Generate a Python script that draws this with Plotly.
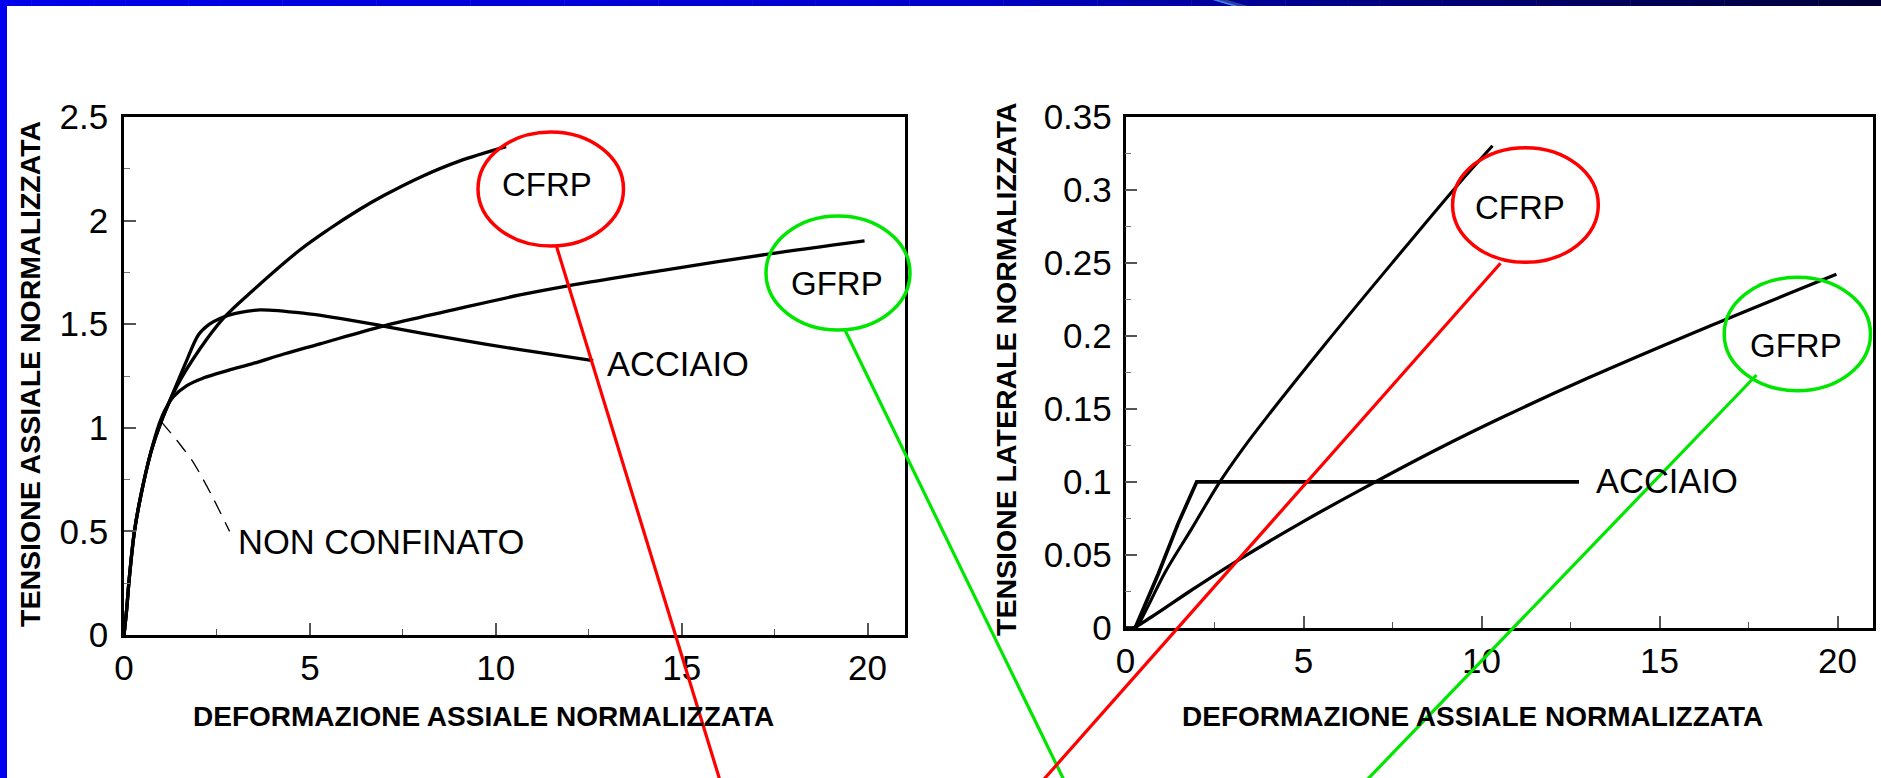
import plotly.graph_objects as go

W, H = 1881, 778

# ---------------- data: left chart (axial stress vs axial strain) ----------------
cfrp_ax_x = [0, 0.07, 0.14, 0.28, 0.45, 0.72, 1.0, 1.42, 2.04, 2.67, 3.48, 4.73, 5.5, 6.3, 7.0, 8.0, 9.0, 10.28]
cfrp_ax_y = [0, 0.12, 0.27, 0.5, 0.67, 0.88, 1.03, 1.2, 1.38, 1.528, 1.665, 1.858, 1.957, 2.05, 2.122, 2.212, 2.286, 2.357]

acc_ax_x = [0, 0.07, 0.14, 0.28, 0.45, 0.72, 1.0, 1.3, 1.65, 2.0, 2.3, 2.58, 3.0, 3.66, 4.82, 6.0, 6.97, 8.85, 10.65, 12.62]
acc_ax_y = [0, 0.12, 0.27, 0.5, 0.67, 0.88, 1.03, 1.16, 1.31, 1.448, 1.5, 1.528, 1.552, 1.569, 1.553, 1.522, 1.491, 1.43, 1.377, 1.324]

gfrp_ax_x = [0, 0.07, 0.14, 0.28, 0.45, 0.72, 0.95, 1.1, 1.33, 1.7, 2.13, 2.8, 3.48, 4.3, 5.27, 6.97, 8.85, 10.65, 11.9, 14.5, 17.28, 19.92]
gfrp_ax_y = [0, 0.12, 0.27, 0.5, 0.67, 0.88, 1.02, 1.085, 1.15, 1.205, 1.24, 1.277, 1.311, 1.356, 1.405, 1.491, 1.569, 1.641, 1.684, 1.76, 1.837, 1.902]

nonconf_x = [1.0, 1.42, 1.82, 2.04, 2.4, 2.84]
nonconf_y = [1.03, 0.94, 0.845, 0.78, 0.66, 0.5]

# ---------------- data: right chart (lateral stress vs axial strain) ----------------
cfrp_lat_x = [0, 0.28, 0.55, 1.11, 1.86, 2.65, 3.3, 4.01, 5.6, 7.48, 9.35, 10.31]
cfrp_lat_y = [0, 0.0, 0.011, 0.038, 0.068, 0.1, 0.1228, 0.1455, 0.194, 0.2495, 0.3037, 0.33]

acc_lat_x = [0, 0.27, 0.92, 1.48, 2.0, 12.74]
acc_lat_y = [0, 0.0, 0.037, 0.0716, 0.1, 0.1]

gfrp_lat_x = [0, 0.2, 0.74, 1.86, 3.17, 5.04, 7.02, 8.8, 10.66, 12.99, 16.5, 19.97]
gfrp_lat_y = [0, 0.0, 0.0077, 0.026, 0.0465, 0.0735, 0.1, 0.1228, 0.145, 0.171, 0.2075, 0.242]

left_xticks = [0, 5, 10, 15, 20]
left_yticks = [0, 0.5, 1, 1.5, 2, 2.5]
right_yticks = [0, 0.05, 0.1, 0.15, 0.2, 0.25, 0.3, 0.35]

FONT = "Liberation Sans, Arial, Helvetica, sans-serif"
RED = "#ff0000"
GREEN = "#00e600"


def px(x):
    return x / W


def py(y):
    return 1 - y / H


fig = go.Figure()

curve = dict(mode="lines", hoverinfo="skip", showlegend=False)
sp = dict(shape="spline", smoothing=1.0)
fig.add_trace(go.Scatter(x=cfrp_ax_x, y=cfrp_ax_y, line=dict(color="black", width=3.3, **sp), xaxis="x", yaxis="y", **curve))
fig.add_trace(go.Scatter(x=acc_ax_x, y=acc_ax_y, line=dict(color="black", width=3.3, shape="spline", smoothing=0.8), xaxis="x", yaxis="y", **curve))
fig.add_trace(go.Scatter(x=gfrp_ax_x, y=gfrp_ax_y, line=dict(color="black", width=3.3, **sp), xaxis="x", yaxis="y", **curve))
fig.add_trace(go.Scatter(x=nonconf_x, y=nonconf_y, line=dict(color="black", width=1.3, dash="15px,9px", shape="spline", smoothing=0.6), xaxis="x", yaxis="y", **curve))

fig.add_trace(go.Scatter(x=cfrp_lat_x, y=cfrp_lat_y, line=dict(color="black", width=3.1, **sp), xaxis="x2", yaxis="y2", **curve))
fig.add_trace(go.Scatter(x=acc_lat_x, y=acc_lat_y, line=dict(color="black", width=3.7), xaxis="x2", yaxis="y2", **curve))
fig.add_trace(go.Scatter(x=gfrp_lat_x, y=gfrp_lat_y, line=dict(color="black", width=3.3, **sp), xaxis="x2", yaxis="y2", **curve))

tickfont = dict(family=FONT, size=35, color="black")
common_axis = dict(showline=True, linecolor="black", linewidth=2.5, mirror=True, showgrid=False, zeroline=False,
                   ticks="inside", tickcolor="#555", tickwidth=1.5, ticklen=12, tickfont=tickfont, fixedrange=True)

fig.update_layout(
    width=W, height=H,
    margin=dict(l=0, r=0, t=0, b=0, autoexpand=False),
    paper_bgcolor="white", plot_bgcolor="white",
    showlegend=False,
    xaxis=dict(domain=[px(124), px(904.7)], range=[0, 21], anchor="y", tickvals=left_xticks,
               minor=dict(ticks="inside", dtick=2.5, tick0=0, ticklen=6, tickcolor="#555", tickwidth=1.2),
               ticklabelstandoff=0, **common_axis),
    yaxis=dict(domain=[py(635), py(117)], range=[0, 2.5], anchor="x", tickvals=left_yticks,
               minor=dict(ticks="inside", dtick=0.25, tick0=0, ticklen=6, tickcolor="#777", tickwidth=1.2),
               ticklabelstandoff=6, **common_axis),
    xaxis2=dict(domain=[px(1125.5), px(1873.1)], range=[0, 21], anchor="y2", tickvals=left_xticks,
                minor=dict(ticks="inside", dtick=2.5, tick0=0, ticklen=6, tickcolor="#555", tickwidth=1.2),
                ticklabelstandoff=0, **common_axis),
    yaxis2=dict(domain=[py(628), py(116.5)], range=[0, 0.35], anchor="x2", tickvals=right_yticks,
                minor=dict(ticks="inside", dtick=0.025, tick0=0, ticklen=6, tickcolor="#777", tickwidth=1.2),
                ticklabelstandoff=4, **common_axis),
)

# ---------------- decorative frame (slide border) ----------------
shapes = []
shapes.append(dict(type="rect", xref="paper", yref="paper", x0=px(0), x1=px(7), y0=py(778), y1=py(0),
                   fillcolor="#0000f0", line=dict(width=0), layer="above"))
stops = [(0, 235), (940, 205), (1400, 125), (1881, 55)]
nseg = 60
for i in range(nseg):
    xa = W * i / nseg
    xb = W * (i + 1) / nseg
    xm = (xa + xb) / 2
    for (s0, c0), (s1, c1) in zip(stops[:-1], stops[1:]):
        if s0 <= xm <= s1:
            c = c0 + (c1 - c0) * (xm - s0) / (s1 - s0)
            break
    shapes.append(dict(type="rect", xref="paper", yref="paper", x0=px(xa), x1=px(xb + 0.5), y0=py(6), y1=py(0),
                       fillcolor=f"rgb(0,0,{int(c)})", line=dict(width=0), layer="above"))
# small swoosh in the top bar
shapes.append(dict(type="path", xref="paper", yref="paper",
                   path=f"M {px(1213)},{py(0)} L {px(1227)},{py(0)} L {px(1248)},{py(6)} L {px(1233)},{py(6)} Z",
                   fillcolor="#2b3f9a", line=dict(width=0), layer="above"))
shapes.append(dict(type="path", xref="paper", yref="paper",
                   path=f"M {px(1213)},{py(0)} L {px(1218)},{py(0)} L {px(1238)},{py(6)} L {px(1233)},{py(6)} Z",
                   fillcolor="#3f86ff", line=dict(width=0), layer="above"))

# ---------------- ellipses and connector lines ----------------
ell = [
    (478, 623.5, 132, 246, RED),
    (766, 910, 216, 330, GREEN),
    (1452.6, 1598.3, 147.7, 262.3, RED),
    (1724.2, 1870.5, 277.3, 390.7, GREEN),
]
for x0, x1, y0, y1, col in ell:
    shapes.append(dict(type="circle", xref="paper", yref="paper", x0=px(x0), x1=px(x1), y0=py(y1), y1=py(y0),
                       line=dict(color=col, width=3.5), layer="above"))

lines = [
    (556.4, 246, 722.9, 790, RED),
    (845, 330, 1068.8, 790, GREEN),
    (1500.5, 263.3, 1034.4, 790, RED),
    (1756.5, 375, 1357.3, 790, GREEN),
]
for x0, y0, x1, y1, col in lines:
    shapes.append(dict(type="line", xref="paper", yref="paper", x0=px(x0), y0=py(y0), x1=px(x1), y1=py(y1),
                       line=dict(color=col, width=3.2), layer="above"))

fig.update_layout(shapes=shapes)

# ---------------- texts ----------------
ann = []
title_font = dict(family=FONT, size=28, color="black", weight="bold")
ytitle_font = dict(family=FONT, size=28.5, color="black", weight="bold")
ann.append(dict(text="DEFORMAZIONE ASSIALE NORMALIZZATA", xref="paper", yref="paper", x=px(483), y=py(716.7),
                xanchor="center", yanchor="middle", showarrow=False, font=title_font))
ann.append(dict(text="DEFORMAZIONE ASSIALE NORMALIZZATA", xref="paper", yref="paper", x=px(1472.7), y=py(716.7),
                xanchor="center", yanchor="middle", showarrow=False, font=title_font))
ann.append(dict(text="TENSIONE ASSIALE NORMALIZZATA", xref="paper", yref="paper", x=px(30), y=py(374),
                xanchor="center", yanchor="middle", textangle=-90, showarrow=False, font=ytitle_font))
ann.append(dict(text="TENSIONE LATERALE NORMALIZZATA", xref="paper", yref="paper", x=px(1006), y=py(369),
                xanchor="center", yanchor="middle", textangle=-90, showarrow=False, font=ytitle_font))

lab_font = dict(family=FONT, size=34.5, color="black")
ann.append(dict(text="NON CONFINATO", xref="x", yref="y", x=3.01, y=0.451, xanchor="left", yanchor="middle",
                showarrow=False, font=lab_font))
ann.append(dict(text="ACCIAIO", xref="x", yref="y", x=12.94, y=1.308, xanchor="left", yanchor="middle",
                showarrow=False, font=lab_font))
ann.append(dict(text="ACCIAIO", xref="x2", yref="y2", x=13.16, y=0.1005, xanchor="left", yanchor="middle",
                showarrow=False, font=lab_font))

ell_labels = [("CFRP", 547, 184.7), ("GFRP", 837, 283), ("CFRP", 1520, 207.5), ("GFRP", 1796, 345)]
for t, x, y in ell_labels:
    ann.append(dict(text=t, xref="paper", yref="paper", x=px(x), y=py(y), xanchor="center", yanchor="middle",
                    showarrow=False, font=dict(family=FONT, size=33, color="black")))

fig.update_layout(annotations=ann)

fig.write_html("out.html", config={"displayModeBar": False})
